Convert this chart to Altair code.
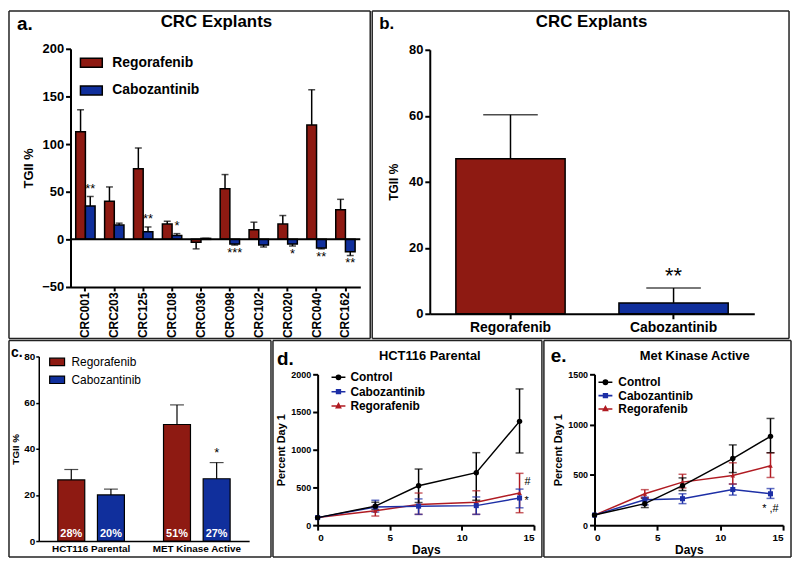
import altair as alt
import pandas as pd

FONT = "Liberation Sans"
RED = "#8E1A12"
BLUE = "#102F9C"
LINE_RED = "#B01B22"
LINE_BLUE = "#1D2FA6"

series2 = ["Regorafenib", "Cabozantinib"]
series3 = ["Control", "Cabozantinib", "Regorafenib"]

# ---------------- panel a ----------------
cats_a = ["CRC001", "CRC203", "CRC125", "CRC108", "CRC036",
          "CRC098", "CRC102", "CRC020", "CRC040", "CRC162"]
rego_a = [113, 40, 74, 16, -3, 53, 10, 16, 120, 31]
rego_a_err = [136, 55, 96, 19, -10, 68, 18, 25, 157, 42]
cabo_a = [35, 15, 8, 4, 1, -5, -6, -5, -9, -13]
cabo_a_err = [45, 17, 13, 6, 1, -6, -8, -7, -10, -17]
cabo_a_sig = ["**", "", "**", "*", "", "***", "", "*", "**", "**"]

# ---------------- panel b ----------------
cats_b = ["Regorafenib", "Cabozantinib"]
mean_b = [47, 3.3]
err_b = [60.3, 7.8]
sig_b = ["", "**"]

# ---------------- panel c ----------------
groups_c = ["HCT116 Parental", "MET Kinase Active"]
rego_c = [26.5, 50.5]
rego_c_err = [31, 59]
cabo_c = [20, 27]
cabo_c_err = [22.5, 34]
rego_c_pct = ["28%", "51%"]
cabo_c_pct = ["20%", "27%"]
cabo_c_sig = ["", "*"]

# ---------------- panel d ----------------
days = [0, 4, 7, 11, 14]
ctrl_d = [100, 252, 522, 696, 1376]
ctrl_d_lo = [100, 209, 300, 330, 957]
ctrl_d_hi = [100, 304, 744, 961, 1806]
cabo_d = [100, 240, 252, 259, 360]
cabo_d_lo = [100, 174, 143, 143, 230]
cabo_d_hi = [100, 330, 348, 374, 478]
rego_d = [100, 191, 273, 303, 426]
rego_d_lo = [100, 121, 143, 143, 165]
rego_d_hi = [100, 252, 426, 456, 687]
ann_d_text = ["#", "*"]
ann_d_y = [578, 317]

# ---------------- panel e ----------------
ctrl_e = [100, 214, 393, 662, 883]
ctrl_e_lo = [100, 175, 344, 523, 720]
ctrl_e_hi = [100, 266, 470, 798, 1061]
cabo_e = [100, 253, 263, 354, 312]
cabo_e_lo = [100, 201, 214, 299, 266]
cabo_e_hi = [100, 279, 312, 409, 364]
rego_e = [100, 312, 428, 493, 591]
rego_e_lo = [100, 273, 370, 409, 474]
rego_e_hi = [100, 353, 506, 620, 720]
ann_e_text = ["* ,#"]
ann_e_y = [165]

ONE = pd.DataFrame({"k": [0]})
RECT_A = "M-1.1,-0.45H1.1V0.45H-1.1Z"
RECT_C = "M-1,-0.5H1V0.5H-1Z"
P_CIRCLE = "M-1,0H1M-0.3,0A0.3,0.3,0,1,0,0.3,0A0.3,0.3,0,1,0,-0.3,0Z"
P_SQUARE = "M-1,0H1M-0.27,-0.27H0.27V0.27H-0.27Z"
P_TRI = "M-1,0H1M0,-0.34L0.3,0.22H-0.3Z"
PATHS3 = [P_CIRCLE, P_SQUARE, P_TRI]


# Every panel's origin is the top-left corner of its frame; the plot area sits inside
# through explicit scale ranges and inward axis offsets.
def frame(FW, FH):
    base = alt.Chart(ONE).mark_rule(color="#222222", strokeWidth=1.5)
    return [
        base.encode(x=alt.value(0), x2=alt.value(FW), y=alt.value(0)),
        base.encode(x=alt.value(0), x2=alt.value(FW), y=alt.value(FH)),
        base.encode(x=alt.value(0), y=alt.value(0), y2=alt.value(FH)),
        base.encode(x=alt.value(FW), y=alt.value(0), y2=alt.value(FH)),
    ]


def label(txt, px, py, size, align="left", baseline="alphabetic"):
    return alt.Chart(ONE).mark_text(
        text=txt, font=FONT, fontWeight="bold", fontSize=size, align=align,
        baseline=baseline, color="black"
    ).encode(x=alt.value(px), y=alt.value(py))


# =============== panel a ===============
rows = []
for i, c in enumerate(cats_a):
    rows.append(dict(cat=c, series="Regorafenib", value=rego_a[i], err=rego_a_err[i], sig=""))
    rows.append(dict(cat=c, series="Cabozantinib", value=cabo_a[i], err=cabo_a_err[i], sig=cabo_a_sig[i]))
df_a = pd.DataFrame(rows)

FWA, FHA = 364, 330
LA, TA, WA, HA = 62, 38, 292, 240
BA = FHA - TA - HA


def ya(field):
    return alt.Y(field, title="TGII %",
                 scale=alt.Scale(domain=[-50, 200], nice=False, zero=False, range=[TA + HA, TA]),
                 axis=alt.Axis(values=[-50, 0, 50, 100, 150, 200], labelFontSize=13, offset=-LA,
                               titleFontSize=13, titlePadding=6, tickSize=5))


base_a = alt.Chart(df_a).encode(
    x=alt.X("cat:N", sort=cats_a, title=None,
            scale=alt.Scale(paddingInner=0.33, paddingOuter=0.18, range=[LA, LA + WA]),
            axis=alt.Axis(labelAngle=-90, labelFontSize=12, tickSize=4, labelPadding=1, offset=-BA)),
    xOffset=alt.XOffset("series:N", sort=series2, scale=alt.Scale(paddingInner=0, paddingOuter=0)),
)
bars_a = base_a.mark_bar(stroke="black", strokeWidth=1.5).encode(
    y=ya("value:Q"),
    color=alt.Color("series:N", sort=series2, scale=alt.Scale(domain=series2, range=[RED, BLUE]),
                    legend=alt.Legend(title=None, orient="none", legendX=LA + 10, legendY=TA + 3,
                                      symbolType=RECT_A, symbolSize=400, symbolStrokeColor="black",
                                      symbolStrokeWidth=1.5, symbolOpacity=1, labelFont=FONT,
                                      labelFontSize=14, labelFontWeight="bold", labelColor="black",
                                      labelOffset=10, rowPadding=9)),
)
err_a = base_a.mark_rule(color="black", strokeWidth=1.5).encode(y=ya("value:Q"), y2="err:Q")
cap_a = base_a.mark_tick(color="black", thickness=1.5, size=7).encode(y=ya("err:Q"))
zero_a = alt.Chart(ONE).mark_rule(color="black", strokeWidth=2).encode(
    x=alt.value(LA), x2=alt.value(LA + WA), y=alt.datum(0))
up_a = base_a.transform_filter("datum.sig != '' && datum.err >= 0").mark_text(
    baseline="bottom", dy=-1, fontSize=13, font=FONT, color="black").encode(y=ya("err:Q"), text="sig:N")
down_a = base_a.transform_filter("datum.sig != '' && datum.err < 0").mark_text(
    baseline="top", dy=2, fontSize=13, font=FONT, color="black").encode(y=ya("err:Q"), text="sig:N")

panel_a = alt.layer(
    *frame(FWA, FHA), bars_a, err_a, cap_a, zero_a, up_a, down_a,
    label("a.", 8, 19, 19),
    label("CRC Explants", 209, 11, 17, align="center", baseline="middle")
).properties(width=FWA, height=FHA)

# =============== panel b ===============
df_b = pd.DataFrame({"cat": cats_b, "value": mean_b, "err": err_b, "sig": sig_b})
FWB, FHB = 420, 330
LB, TB, WB, HB = 58, 39, 327, 266
BB = FHB - TB - HB


def yb(field):
    return alt.Y(field, title="TGII %", scale=alt.Scale(domain=[0, 80], nice=False, range=[TB + HB, TB]),
                 axis=alt.Axis(values=[0, 20, 40, 60, 80], labelFontSize=13, titleFontSize=12,
                               titlePadding=8, tickSize=5, offset=-LB))


base_b = alt.Chart(df_b).encode(
    x=alt.X("cat:N", sort=cats_b, title=None,
            scale=alt.Scale(paddingInner=0.33, paddingOuter=0.16, range=[LB, LB + WB]),
            axis=alt.Axis(labelAngle=0, labelFontSize=14, tickSize=5, labelPadding=2, offset=-BB)),
)
bars_b = base_b.mark_bar(stroke="black", strokeWidth=1.5).encode(
    y=yb("value:Q"),
    color=alt.Color("cat:N", scale=alt.Scale(domain=cats_b, range=[RED, BLUE]), legend=None),
)
err_b_l = base_b.mark_rule(color="black", strokeWidth=1.5).encode(y=yb("value:Q"), y2="err:Q")
cap_b = base_b.mark_tick(color="black", thickness=1.5, size=55).encode(y=yb("err:Q"))
star_b = base_b.transform_filter("datum.sig != ''").mark_text(
    baseline="bottom", dy=0, fontSize=22, font=FONT, color="black").encode(y=yb("err:Q"), text="sig:N")

panel_b = alt.layer(
    *frame(FWB, FHB), bars_b, err_b_l, cap_b, star_b,
    label("b.", 7, 18, 17),
    label("CRC Explants", 221, 11, 17, align="center", baseline="middle")
).properties(width=FWB, height=FHB)

# =============== panel c ===============
rows = []
for i, g in enumerate(groups_c):
    rows.append(dict(grp=g, series="Regorafenib", value=rego_c[i], err=rego_c_err[i], pct=rego_c_pct[i], sig=""))
    rows.append(dict(grp=g, series="Cabozantinib", value=cabo_c[i], err=cabo_c_err[i], pct=cabo_c_pct[i], sig=cabo_c_sig[i]))
df_c = pd.DataFrame(rows)
FWC, FHC = 264, 218
LC, TC, WC, HC = 30, 16, 212, 186
BC = FHC - TC - HC


def yc(field):
    return alt.Y(field, title="TGII %", scale=alt.Scale(domain=[0, 80], nice=False, range=[TC + HC, TC]),
                 axis=alt.Axis(values=[0, 20, 40, 60, 80], labelFontSize=10, titleFontSize=10,
                               titlePadding=3, tickSize=3, labelPadding=1, domainWidth=1.5,
                               tickWidth=1.5, offset=-LC))


base_c = alt.Chart(df_c).encode(
    x=alt.X("grp:N", sort=groups_c, title=None,
            scale=alt.Scale(paddingInner=0.25, paddingOuter=0.12, range=[LC, LC + WC]),
            axis=alt.Axis(labelAngle=0, labelFontSize=10, ticks=False, labelPadding=3, domainWidth=1.5,
                          offset=-BC)),
    xOffset=alt.XOffset("series:N", sort=series2, scale=alt.Scale(paddingInner=0.32, paddingOuter=0.16)),
)
bars_c = base_c.mark_bar(stroke="black", strokeWidth=1.2).encode(
    y=yc("value:Q"),
    color=alt.Color("series:N", sort=series2, scale=alt.Scale(domain=series2, range=[RED, BLUE]),
                    legend=alt.Legend(title=None, orient="none", legendX=LC + 10, legendY=TC - 3,
                                      symbolType=RECT_C, symbolSize=225, symbolStrokeColor="black",
                                      symbolStrokeWidth=1.2, symbolOpacity=1, labelFont=FONT,
                                      labelFontSize=12, labelFontWeight="normal", labelColor="black",
                                      labelOffset=6, rowPadding=3)),
)
err_c = base_c.mark_rule(color="black", strokeWidth=1.2).encode(y=yc("value:Q"), y2="err:Q")
cap_c = base_c.mark_tick(color="black", thickness=1.2, size=14).encode(y=yc("err:Q"))
star_c = base_c.transform_filter("datum.sig != ''").mark_text(
    baseline="bottom", dy=-3, fontSize=13, font=FONT, color="black").encode(y=yc("err:Q"), text="sig:N")
pct_c = base_c.mark_text(baseline="bottom", dy=-2, fontSize=11, font=FONT, fontWeight="bold",
                         color="white").encode(y=alt.datum(0), text="pct:N")

panel_c = alt.layer(
    *frame(FWC, FHC), bars_c, err_c, cap_c, star_c, pct_c,
    label("c.", 2, 17, 14)
).properties(width=FWC, height=FHC)


# =============== panels d & e ===============
def growth(ctrl, ctrl_lo, ctrl_hi, cabo, cabo_lo, cabo_hi, rego, rego_lo, rego_hi,
           ymax, yvals, title, let, fdims, pdims, leg, title_xy, let_xy, ann_text, ann_y, ann_align, ann_dx):
    FW, FH = fdims
    L, T, W, H = pdims
    B = FH - T - H
    rws = []
    for nm, m, lo, hi in [("Regorafenib", rego, rego_lo, rego_hi),
                          ("Cabozantinib", cabo, cabo_lo, cabo_hi),
                          ("Control", ctrl, ctrl_lo, ctrl_hi)]:
        for i, d in enumerate(days):
            rws.append(dict(day=d, series=nm, mean=m[i], lo=lo[i], hi=hi[i]))
    df = pd.DataFrame(rws)

    def X():
        return alt.X("day:Q", title="Days", scale=alt.Scale(domain=[0, 15], nice=False, range=[L, L + W]),
                     axis=alt.Axis(values=[0, 5, 10, 15], labelFontSize=10, titleFontSize=12,
                                   tickSize=5, domainWidth=2, titlePadding=3, offset=-B))

    def Y(field):
        return alt.Y(field, title="Percent Day 1",
                     scale=alt.Scale(domain=[0, ymax], nice=False, range=[T + H, T]),
                     axis=alt.Axis(values=yvals, labelFontSize=9, titleFontSize=11, tickSize=5,
                                   titlePadding=4, format="d", offset=-L))

    rng = ["black", LINE_BLUE, LINE_RED]
    col = alt.Color("series:N", scale=alt.Scale(domain=series3, range=rng), legend=None)
    base = alt.Chart(df)
    lines = base.mark_line(strokeWidth=1.5).encode(x=X(), y=Y("mean:Q"), color=col, detail="series:N")
    eb = base.transform_filter("datum.day > 0")
    err = eb.mark_rule(strokeWidth=1.5).encode(x=X(), y=Y("lo:Q"), y2="hi:Q", color=col)
    caph = eb.mark_tick(thickness=1.5, size=8, orient="horizontal").encode(x=X(), y=Y("hi:Q"), color=col)
    capl = eb.mark_tick(thickness=1.5, size=8, orient="horizontal").encode(x=X(), y=Y("lo:Q"), color=col)
    pts = []
    for nm, shp, sz in [("Regorafenib", "triangle-up", 22), ("Cabozantinib", "square", 26),
                        ("Control", "circle", 30)]:
        pts.append(base.transform_filter(alt.datum.series == nm).mark_point(
            filled=True, opacity=1, shape=shp, size=sz).encode(x=X(), y=Y("mean:Q"), color=col))

    # legend block (line + marker key and series name for each series)
    sx, tx, y0, dy = leg
    leg_df = pd.DataFrame({"series": series3})
    legend_layers = []
    for k, (nm, path) in enumerate(zip(series3, PATHS3)):
        sub = alt.Chart(leg_df).transform_filter(alt.datum.series == nm)
        yy = y0 + k * dy
        legend_layers.append(sub.mark_point(shape=path, size=196, filled=False, strokeWidth=1.6,
                                            opacity=1).encode(x=alt.value(sx), y=alt.value(yy), color=col))
        legend_layers.append(sub.mark_point(shape=path, size=196, filled=True,
                                            opacity=1).encode(x=alt.value(sx), y=alt.value(yy), color=col))
        legend_layers.append(sub.mark_text(align="left", baseline="middle", font=FONT, fontSize=12,
                                           fontWeight="bold", color="black").encode(
            x=alt.value(tx), y=alt.value(yy), text="series:N"))

    ann_df = pd.DataFrame({"day": [14] * len(ann_text), "y": ann_y, "t": ann_text})
    ann = alt.Chart(ann_df).mark_text(fontSize=11, font=FONT, color="black", align=ann_align,
                                      dx=ann_dx).encode(x=X(), y=Y("y:Q"), text="t:N")
    return alt.layer(
        *frame(FW, FH), err, caph, capl, lines, *pts, *legend_layers, ann,
        label(let, let_xy[0], let_xy[1], 19),
        label(title, title_xy[0], title_xy[1], 13, align="center", baseline="middle")
    ).properties(width=FW, height=FH)


panel_d = growth(ctrl_d, ctrl_d_lo, ctrl_d_hi, cabo_d, cabo_d_lo, cabo_d_hi, rego_d, rego_d_lo, rego_d_hi,
                 2000, [0, 500, 1000, 1500, 2000], "HCT116 Parental", "d.",
                 (271, 218), (45, 34, 218, 152), (66, 78, 37, 14.5), (158, 16), (4, 25),
                 ann_d_text, ann_d_y, "left", 5)
panel_e = growth(ctrl_e, ctrl_e_lo, ctrl_e_hi, cabo_e, cabo_e_lo, cabo_e_hi, rego_e, rego_e_lo, rego_e_hi,
                 1500, [0, 500, 1000, 1500], "Met Kinase Active", "e.",
                 (249, 218), (51, 34, 190, 152), (62, 75, 42, 13.5), (152, 16), (7, 22),
                 ann_e_text, ann_e_y, "center", 0)

IND = dict(color="independent", shape="independent", xOffset="independent",
           x="independent", y="independent")
LEG = dict(color="independent", shape="independent")
top = alt.hconcat(panel_a, panel_b, spacing=0).resolve_scale(**IND).resolve_legend(**LEG)
bottom = alt.hconcat(panel_c, panel_d, panel_e, spacing=0).resolve_scale(**IND).resolve_legend(**LEG)
chart = alt.vconcat(top, bottom, spacing=0).resolve_scale(**IND).resolve_legend(**LEG).properties(
    padding=0, background="white"
).configure_view(
    stroke=None
).configure_axis(
    grid=False, domainColor="black", domainWidth=2, tickColor="black", tickWidth=2,
    labelColor="black", labelFont=FONT, labelFontWeight="bold", titleFont=FONT,
    titleFontWeight="bold", titleColor="black"
)

chart.save("out.html", embed_options={"renderer": "svg", "actions": False})
